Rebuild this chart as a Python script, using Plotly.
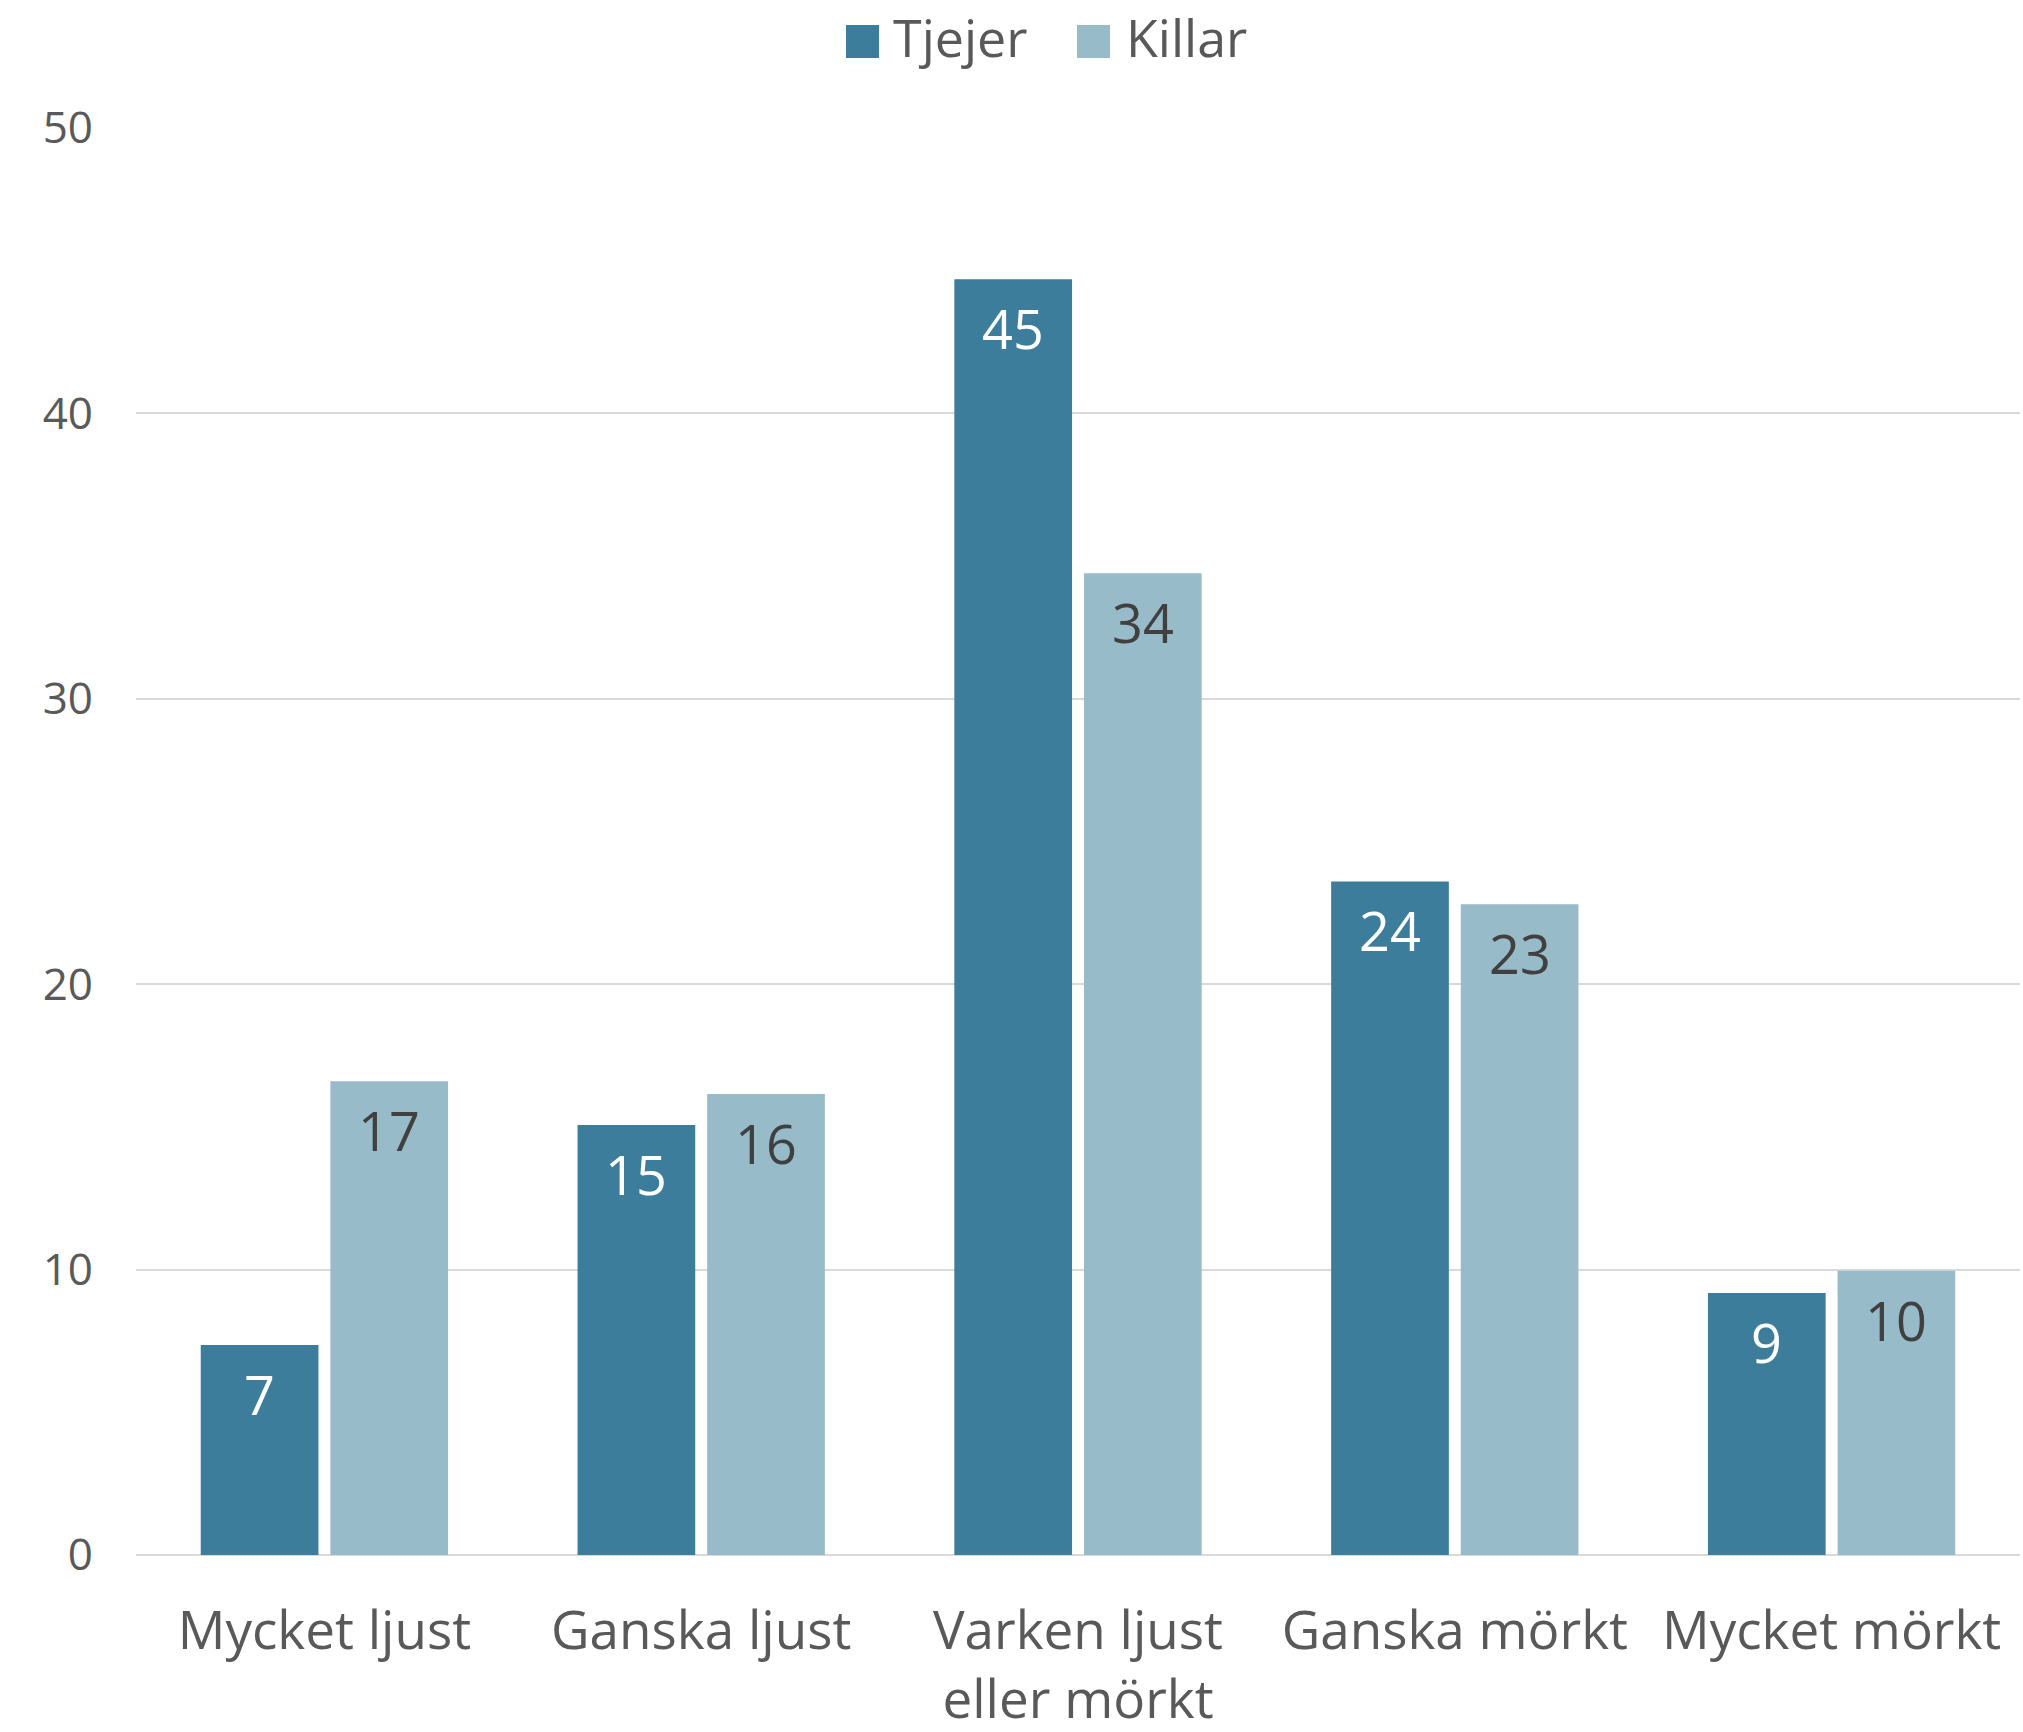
import plotly.graph_objects as go

categories = ["Mycket ljust", "Ganska ljust", "Varken ljust<br>eller mörkt", "Ganska mörkt", "Mycket mörkt"]
tjejer = [7.36, 15.07, 44.7, 23.6, 9.18]
killar = [16.6, 16.15, 34.4, 22.8, 9.96]
series_names = ["Tjejer", "Killar"]
y_ticks = [0, 10, 20, 30, 40, 50]

DARK = "#3B7D9A"
LIGHT = "#98BBCA"
TEXT = "#595959"
FONT = "Open Sans"

W, H = 2023, 1732
ML, MR, MT, MB = 136, 3, 128, 177
PW, PH = W - ML - MR, H - MT - MB
BARGAP, GROUPGAP = 0.312, 0.092


def px_x(px):
    return (px - ML) / PW


def px_y(py):
    return (H - MB - py) / PH


fig = go.Figure()
fig.add_trace(go.Bar(
    x=categories, y=tjejer, name=series_names[0],
    marker=dict(color=DARK, line=dict(width=0)), showlegend=False,
))
fig.add_trace(go.Bar(
    x=categories, y=killar, name=series_names[1],
    marker=dict(color=LIGHT, line=dict(width=0)), showlegend=False,
))

annotations = []
shapes = []

# value labels just inside the top of each bar
slot = PW / len(categories) * (1 - BARGAP) / 2
for values, shift, color in ((tjejer, -slot / 2, "white"), (killar, slot / 2, "#404040")):
    for cat, v in zip(categories, values):
        annotations.append(dict(
            x=cat, y=v, xref="x", yref="y", xshift=shift, yshift=-10,
            text=f"{v:.0f}", showarrow=False, xanchor="center", yanchor="top",
            font=dict(family=FONT, size=54, color=color),
        ))

# legend drawn as squares and labels above the plot
legend_items = [
    (series_names[0], DARK, 846, 895),
    (series_names[1], LIGHT, 1077, 1128),
]
for name, color, sq_left, txt_left in legend_items:
    shapes.append(dict(
        type="rect", xref="paper", yref="paper",
        x0=px_x(sq_left), x1=px_x(sq_left + 33), y0=px_y(58), y1=px_y(25),
        fillcolor=color, line=dict(width=0), layer="above",
    ))
    annotations.append(dict(
        text=name, xref="paper", yref="paper", x=px_x(txt_left - 4), y=px_y(37),
        xanchor="left", yanchor="middle", showarrow=False,
        font=dict(family=FONT, size=52, color=TEXT),
    ))

fig.update_layout(
    width=W, height=H,
    margin=dict(l=ML, r=MR, t=MT, b=MB, autoexpand=False),
    paper_bgcolor="white", plot_bgcolor="white",
    barmode="group", bargap=BARGAP, bargroupgap=GROUPGAP,
    font=dict(family=FONT, color=TEXT),
    shapes=shapes, annotations=annotations,
)
fig.update_xaxes(
    showgrid=False, showline=False, ticks="", zeroline=False, automargin=False,
    tickfont=dict(family=FONT, size=53, color=TEXT),
    ticklabelstandoff=40,
)
fig.update_yaxes(
    range=[0, 50], tickvals=y_ticks, showgrid=True, gridcolor="#D9D9D9", gridwidth=2,
    zeroline=True, zerolinecolor="#D9D9D9", zerolinewidth=2, showline=False, ticks="",
    automargin=False,
    tickfont=dict(family=FONT, size=44, color=TEXT),
    ticklabelstandoff=42,
)

fig.write_html("out.html")
